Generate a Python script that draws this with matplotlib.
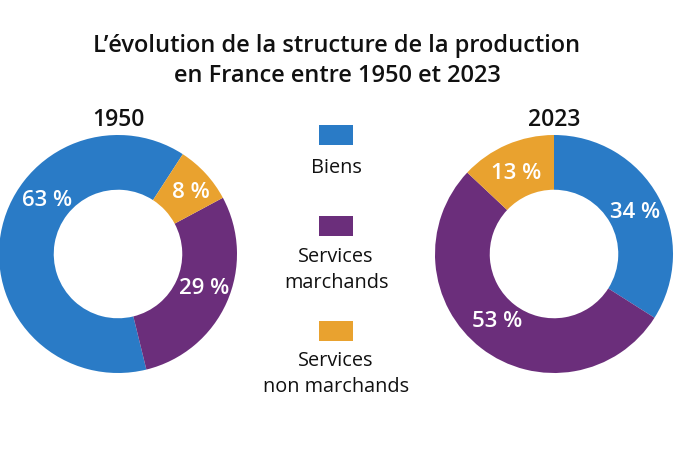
import matplotlib
matplotlib.use('Agg')
import matplotlib.pyplot as plt
from matplotlib.patches import Rectangle
import numpy as np

# données
categories = ['Biens', 'Services\nmarchands', 'Services\nnon marchands']
parts_1950 = [63, 29, 8]
parts_2023 = [34, 53, 13]
annees = ['1950', '2023']
couleurs = ['#2a7bc6', '#6b2e7b', '#e9a22f']

W, H = 697, 463
plt.rcParams['font.family'] = ['Open Sans', 'DejaVu Sans']

fig = plt.figure(figsize=(W / 100, H / 100), dpi=100)
fig.patch.set_facecolor('white')

fig.text(337 / W, 1 - 61 / H,
         "L’évolution de la structure de la production\nen France entre 1950 et 2023",
         ha='center', va='center', fontsize=17, fontweight='semibold',
         linespacing=1.35, color='#111111')


def donut(cx, cy, r, valeurs, annee, start, counterclock, pos_labels):
    ax = fig.add_axes([(cx - r) / W, (H - cy - r) / H, 2 * r / W, 2 * r / H])
    ax.pie(valeurs, colors=couleurs, startangle=start, counterclock=counterclock,
           radius=1, wedgeprops=dict(width=0.46, linewidth=0))
    ax.set_xlim(-1, 1)
    ax.set_ylim(-1, 1)
    ax.set_aspect('equal')
    ax.axis('off')
    ax.text(0, 1.13, annee, ha='center', va='center', fontsize=16.5,
            fontweight='semibold', color='#111111', clip_on=False)
    # étiquettes (angle depuis le haut, sens horaire)
    for v, (ang, rr) in zip(valeurs, pos_labels):
        a = np.radians(ang)
        ax.text(rr * np.sin(a), rr * np.cos(a), f'{v} %', ha='center', va='center',
                fontsize=16, fontweight='semibold', color='white', clip_on=False)
    return ax


donut(118, 254, 119, parts_1950, annees[0], 57, True,
      [(307, 0.745), (112, 0.78), (50, 0.80)])
donut(554, 254, 119, parts_2023, annees[1], 90, False,
      [(63, 0.76), (220, 0.745), (-25, 0.75)])

# légende au centre
carres_y = [135, 226, 331]
textes_y = [168, 269.5, 374.5]
for c, lab, yc, yt in zip(couleurs, categories, carres_y, textes_y):
    fig.add_artist(Rectangle(((336 - 17) / W, 1 - (yc + 10) / H), 34 / W, 20 / H,
                             transform=fig.transFigure, color=c, lw=0))
    fig.text(336 / W, 1 - yt / H, lab, ha='center', va='center', fontsize=14.3,
             linespacing=1.4, color='#111111')

fig.savefig('out.png', dpi=100)
